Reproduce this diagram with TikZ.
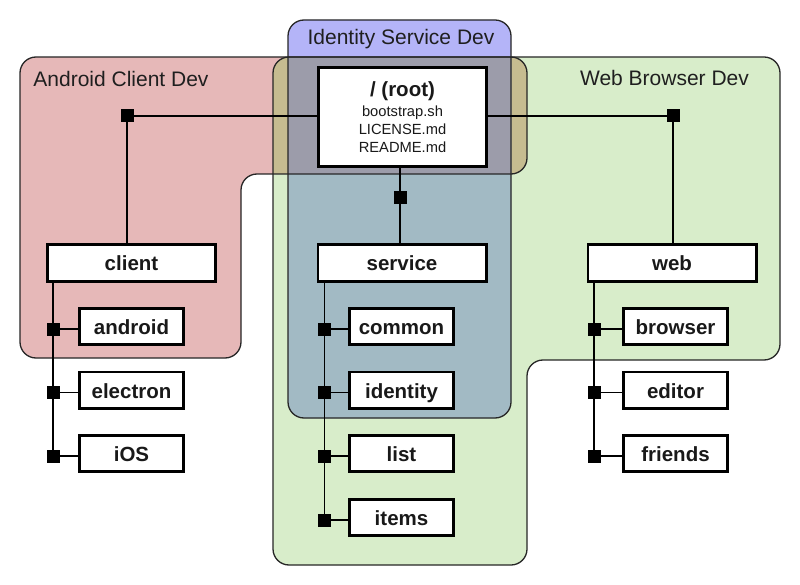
\documentclass[tikz,border=0pt]{standalone}
\usepackage{fontspec}
\setmainfont{Liberation Sans}
\definecolor{redfill}{HTML}{E6B8B8}
\definecolor{greenfill}{HTML}{D8EDCA}
\definecolor{olivefill}{HTML}{C6BC90}
\definecolor{bluefill}{HTML}{B4B4F8}
\definecolor{tealfill}{HTML}{A2BAC4}
\definecolor{greyfill}{HTML}{9C9CAA}
\def\redshape{(20,57) -- (527,57) -- (527,174) -- (241,174) -- (241,358) -- (20,358) -- cycle}
\def\greenshape{(273,57) -- (780,57) -- (780,360) -- (527,360) -- (527,565) -- (273,565) -- cycle}
\def\blueshape{(288,20) -- (511,20) -- (511,418) -- (288,418) -- cycle}
\begin{document}
\begin{tikzpicture}[x=1pt,y=-1pt,
  region/.style={rounded corners=16pt},
  outline/.style={draw=black!85, line width=1.3pt, rounded corners=16pt},
  box/.style={draw=black, line width=2.6pt, fill=white, inner sep=0pt, text=black!90,
    font=\bfseries\fontsize{20.5}{24}\selectfont},
  topbox/.style={box, minimum width=168.4pt, minimum height=37.4pt, text height=16pt, text depth=0pt},
  leafbox/.style={box, minimum width=104.4pt, minimum height=36.4pt, text height=16pt, text depth=0pt},
  junction/.style={fill=black, minimum size=13pt, inner sep=0pt},
  conn/.style={line width=1.5pt, draw=black},
  grouplabel/.style={font=\fontsize{21}{24}\selectfont, text=black!88, inner sep=0pt, anchor=base}
]
\useasboundingbox (0,0) rectangle (800,585);

% region fills
\fill[redfill, region] \redshape;
\fill[greenfill, region] \greenshape;
\begin{scope}
  \clip[region] \redshape;
  \fill[olivefill, region] \greenshape;
\end{scope}
\fill[bluefill, region] \blueshape;
\begin{scope}
  \clip[region] \blueshape;
  \fill[tealfill, region] \greenshape;
  \clip[region] \redshape;
  \fill[greyfill, region] \blueshape;
\end{scope}
% region outlines
\draw[outline] \redshape;
\draw[outline] \greenshape;
\draw[outline] \blueshape;

% group labels
\node[grouplabel] (lblandroid) at (121,87) {Android Client Dev};
\node[grouplabel] (lblweb) at (664.5,86) {Web Browser Dev};
\node[grouplabel] (lblident) at (401,45) {Identity Service Dev};

% boxes
\node[box, minimum width=168.4pt, minimum height=99.4pt, align=center,
  font=\fontsize{14.7}{18}\selectfont] (root) at (402.5,117)
  {{\bfseries\fontsize{20.5}{22}\selectfont / (root)}\\[2pt]bootstrap.sh\\LICENSE.md\\README.md};

\node[topbox] (client) at (131.5,263) {client};
\node[topbox] (service) at (402,263) {service};
\node[topbox] (web) at (672,263) {web};

\node[leafbox] (android) at (131.5,326.5) {android};
\node[leafbox] (electron) at (131.5,390) {electron};
\node[leafbox] (ios) at (131.5,453.5) {iOS};

\node[leafbox] (common) at (401.5,326.5) {common};
\node[leafbox] (identity) at (401.5,390) {identity};
\node[leafbox] (list) at (401.5,453.5) {list};
\node[leafbox] (items) at (401.5,517.5) {items};

\node[leafbox] (browser) at (675.5,326.5) {browser};
\node[leafbox] (editor) at (675.5,390) {editor};
\node[leafbox] (friends) at (675.5,453.5) {friends};

% junctions
\node[junction] (jrl) at (127,116) {};
\node[junction] (jrr) at (673,116) {};
\node[junction] (jrd) at (400,198) {};

\node[junction] (ja) at (53,329) {};
\node[junction] (je) at (53,392.5) {};
\node[junction] (ji) at (53,456) {};

\node[junction] (jc) at (324.5,329) {};
\node[junction] (jid) at (324.5,392.5) {};
\node[junction] (jl) at (324.5,456) {};
\node[junction] (jit) at (324.5,520) {};

\node[junction] (jb) at (594,329) {};
\node[junction] (jed) at (594,392.5) {};
\node[junction] (jf) at (594,456) {};

% connectors from root
\draw[conn] (jrl.center) -- (jrl.center -| root.west);
\draw[conn] (jrl.center) -- (jrl.center |- client.north);
\draw[conn] (jrr.center) -- (jrr.center -| root.east);
\draw[conn] (jrr.center) -- (jrr.center |- web.north);
\draw[conn] (jrd.center |- root.south) -- (jrd.center |- service.north);

% client column
\draw[conn] (ja.center |- client.south) -- (ji.center);
\draw[conn] (ja.center) -- (ja.center -| android.west);
\draw[conn] (je.center) -- (je.center -| electron.west);
\draw[conn] (ji.center) -- (ji.center -| ios.west);

% service column
\draw[conn] (jc.center |- service.south) -- (jit.center);
\draw[conn] (jc.center) -- (jc.center -| common.west);
\draw[conn] (jid.center) -- (jid.center -| identity.west);
\draw[conn] (jl.center) -- (jl.center -| list.west);
\draw[conn] (jit.center) -- (jit.center -| items.west);

% web column
\draw[conn] (jb.center |- web.south) -- (jf.center);
\draw[conn] (jb.center) -- (jb.center -| browser.west);
\draw[conn] (jed.center) -- (jed.center -| editor.west);
\draw[conn] (jf.center) -- (jf.center -| friends.west);
\end{tikzpicture}
\end{document}
